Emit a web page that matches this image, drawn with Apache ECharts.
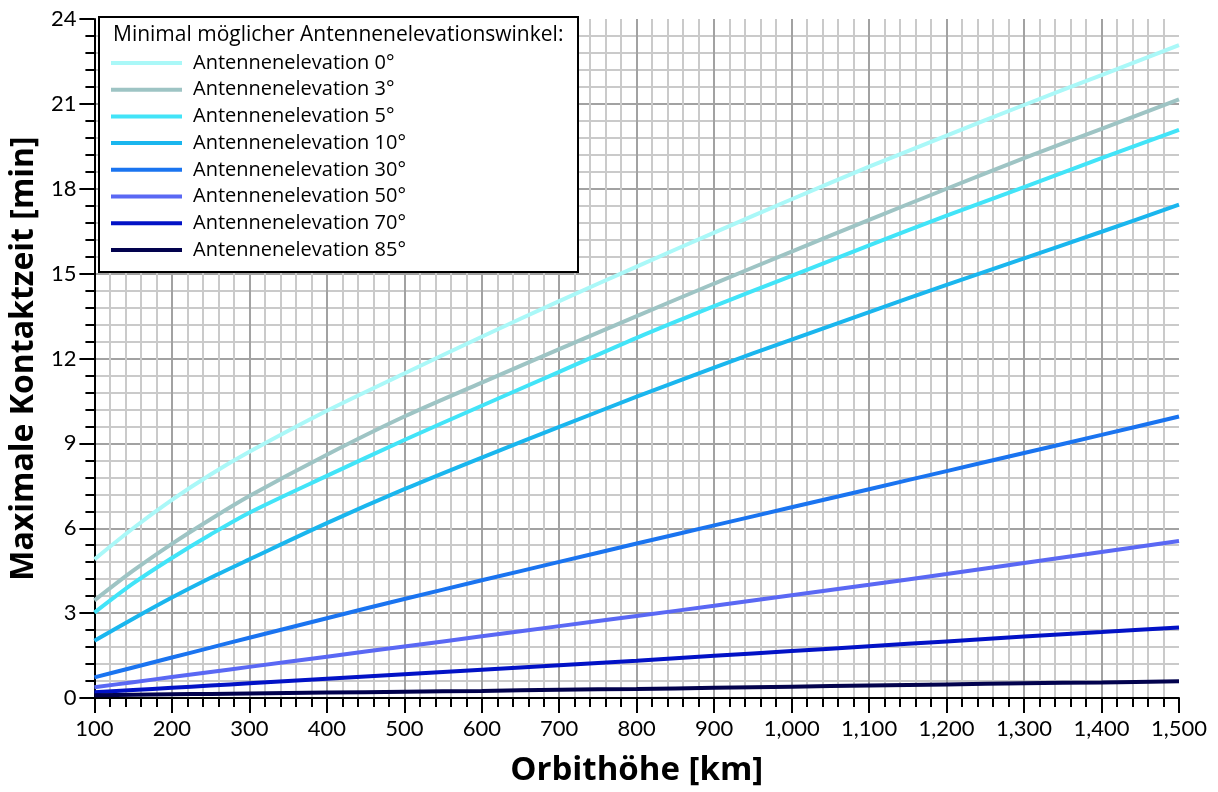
<!DOCTYPE html>
<html>
<head>
<meta charset="utf-8">
<script src="https://cdn.jsdelivr.net/npm/echarts@6/dist/echarts.min.js"></script>
<style>
  html, body { margin: 0; padding: 0; background: #fff; }
  #chart { width: 1218px; height: 792px; }
</style>
</head>
<body>
<div id="chart"></div>
<script>
// Orbithöhe [km]
const heights = [100, 150, 200, 250, 300, 400, 500, 600, 700, 800, 900, 1000, 1100, 1200, 1300, 1400, 1500];

// Maximale Kontaktzeit [min] je minimaler Antennenelevation
const elev0  = [4.9, 6.0, 7.0, 7.9, 8.7, 10.15, 11.47, 12.77, 14.03, 15.25, 16.45, 17.63, 18.78, 19.88, 20.96, 22.02, 23.08];
const elev3  = [3.45, 4.5, 5.45, 6.32, 7.14, 8.6, 9.95, 11.15, 12.33, 13.5, 14.65, 15.78, 16.9, 18.0, 19.08, 20.12, 21.16];
const elev5  = [3.02, 4.05, 4.95, 5.78, 6.55, 7.85, 9.12, 10.33, 11.53, 12.73, 13.85, 14.92, 16.0, 17.05, 18.06, 19.08, 20.08];
const elev10 = [2.02, 2.8, 3.55, 4.25, 4.9, 6.18, 7.38, 8.5, 9.58, 10.65, 11.68, 12.67, 13.64, 14.6, 15.54, 16.48, 17.44];
const elev30 = [0.73, 1.08, 1.43, 1.78, 2.13, 2.82, 3.5, 4.16, 4.81, 5.46, 6.1, 6.74, 7.38, 8.02, 8.66, 9.3, 9.95];
const elev50 = [0.38, 0.56, 0.74, 0.92, 1.1, 1.46, 1.82, 2.18, 2.54, 2.9, 3.26, 3.63, 4.0, 4.38, 4.77, 5.16, 5.55];
const elev70 = [0.2, 0.28, 0.36, 0.44, 0.52, 0.68, 0.84, 1.0, 1.16, 1.32, 1.49, 1.66, 1.83, 2.0, 2.17, 2.33, 2.49];
const elev85 = [0.1, 0.115, 0.13, 0.145, 0.16, 0.19, 0.22, 0.25, 0.29, 0.32, 0.36, 0.4, 0.44, 0.48, 0.52, 0.55, 0.59];

const seriesNames = [
  'Antennenelevation 0°', 'Antennenelevation 3°', 'Antennenelevation 5°', 'Antennenelevation 10°',
  'Antennenelevation 30°', 'Antennenelevation 50°', 'Antennenelevation 70°', 'Antennenelevation 85°'
];
const seriesValues = [elev0, elev3, elev5, elev10, elev30, elev50, elev70, elev85];
const colors = ['#aaf8f8', '#9ec4c4', '#42e4f8', '#1ab6ee', '#1a74f0', '#5a68f4', '#0212c6', '#02024e'];

const FONT = 'Open Sans';
const TICK_FONT = 'Lato';

const chart = echarts.init(document.getElementById('chart'));

const series = seriesNames.map((name, i) => ({
  name: name,
  type: 'line',
  smooth: 0.3,
  showSymbol: false,
  symbol: 'none',
  z: 3,
  lineStyle: { width: 4, color: colors[i] },
  itemStyle: { color: colors[i] },
  data: heights.map((h, j) => [h, seriesValues[i][j]])
}));

const option = {
  animation: false,
  backgroundColor: '#fff',
  textStyle: { fontFamily: FONT, color: '#000' },
  grid: { left: 93, right: 39, top: 19, bottom: 93, containLabel: false },
  xAxis: {
    type: 'value',
    min: 100,
    max: 1500,
    interval: 100,
    name: 'Orbithöhe [km]',
    nameLocation: 'middle',
    nameGap: 56,
    nameTextStyle: { fontFamily: FONT, fontSize: 33, fontWeight: 'bold', color: '#000' },
    axisLine: { lineStyle: { color: '#000', width: 2 } },
    axisTick: { show: true, inside: false, length: 15, lineStyle: { color: '#000', width: 2 } },
    minorTick: { show: true, splitNumber: 5, length: 9, lineStyle: { color: '#000', width: 2 } },
    axisLabel: {
      fontFamily: TICK_FONT, fontSize: 22, color: '#000', margin: 20,
      formatter: v => v.toLocaleString('en-US')
    },
    splitLine: { show: true, showMaxLine: false, lineStyle: { color: '#a2a2a2', width: 2 } },
    minorSplitLine: { show: true, lineStyle: { color: '#cacaca', width: 2 } }
  },
  yAxis: {
    type: 'value',
    min: 0,
    max: 24,
    interval: 3,
    name: 'Maximale Kontaktzeit [min]',
    nameLocation: 'middle',
    nameGap: 46,
    nameTextStyle: { fontFamily: FONT, fontSize: 32, fontWeight: 'bold', color: '#000' },
    axisLine: { show: true, lineStyle: { color: '#000', width: 2 } },
    axisTick: { show: true, inside: false, length: 15, lineStyle: { color: '#000', width: 2 } },
    minorTick: { show: true, splitNumber: 5, length: 9, lineStyle: { color: '#000', width: 2 } },
    axisLabel: { fontFamily: TICK_FONT, fontSize: 22, color: '#000', margin: 18 },
    splitLine: { show: true, showMaxLine: false, lineStyle: { color: '#a2a2a2', width: 2 } },
    minorSplitLine: { show: true, lineStyle: { color: '#cacaca', width: 2 } }
  },
  graphic: [{
    type: 'rect',
    z: 10,
    shape: { x: 99, y: 17, width: 479, height: 255 },
    style: { fill: '#fff', stroke: '#000', lineWidth: 2 }
  }],
  title: {
    text: 'Minimal möglicher Antennenelevationswinkel:',
    left: 113,
    top: 25,
    padding: 0,
    z: 12,
    textStyle: { fontFamily: FONT, fontSize: 21, fontWeight: 'normal', color: '#000' }
  },
  legend: {
    orient: 'vertical',
    left: 111,
    top: 53,
    padding: 0,
    z: 12,
    icon: 'rect',
    itemWidth: 71,
    itemHeight: 4,
    itemGap: 6.7,
    textStyle: { fontFamily: FONT, fontSize: 20, color: '#000', lineHeight: 20, padding: [0, 0, 0, 6] },
    data: seriesNames
  },
  series: series
};

chart.setOption(option);
</script>
</body>
</html>
